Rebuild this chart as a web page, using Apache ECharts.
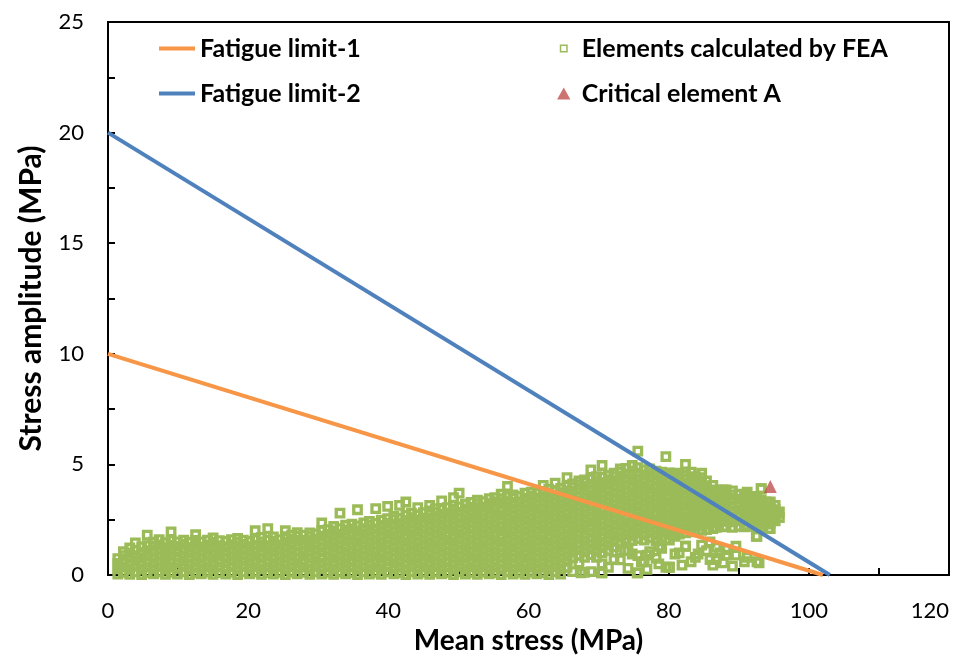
<!DOCTYPE html>
<html>
<head>
<meta charset="utf-8">
<script src="https://cdn.jsdelivr.net/npm/echarts@6/dist/echarts.min.js"></script>
<style>
html,body{margin:0;padding:0;background:#fff;}
#chart{width:957px;height:667px;}
</style>
</head>
<body>
<div id="chart"></div>
<script>
// Axis ticks
const xTicks = [0, 20, 40, 60, 80, 100, 120];
const yTicks = [0, 5, 10, 15, 20, 25];

// Fatigue limit lines (mean stress, stress amplitude)
const fatigueLimit1 = [[0, 10], [102, 0]];
const fatigueLimit2 = [[0, 20], [103, 0]];

// Critical element A
const criticalElementA = [[94.5, 4.0]];

// FEA elements, read column by column: [meanStress, amplitude1, amplitude2, ...]
const feaBandA = [
[1.4,0.04,0.28,0.52,0.74],
[2.2,0.12,0.37,0.61,0.88,1.05],
[3.1,0.03,0.26,0.5,0.76,0.99,1.22],
[3.9,0.14,0.39,0.63,0.87,1.12,1.45],
[4.8,0.02,0.27,0.52,0.77,1.01,1.27],
[5.6,0.11,0.36,0.6,0.86,1.1,1.33,1.8],
[6.5,0.05,0.29,0.54,0.79,1.04,1.3,1.48],
[7.3,0.13,0.38,0.62,0.88,1.12,1.36,1.6],
[8.2,0.03,0.27,0.51,0.75,1.0,1.24,1.46],
[9.0,0.12,0.36,0.6,0.85,1.09,1.34,1.55,1.95],
[9.9,0.04,0.3,0.55,0.8,1.05,1.29,1.5],
[10.8,0.14,0.39,0.64,0.88,1.13,1.38,1.57],
[11.6,0.02,0.26,0.5,0.76,1.0,1.25,1.48],
[12.5,0.1,0.35,0.6,0.84,1.1,1.34,1.56,1.82],
[13.3,0.05,0.29,0.53,0.78,1.02,1.27,1.5],
[14.2,0.13,0.37,0.62,0.87,1.11,1.35,1.58],
[15.0,0.03,0.28,0.52,0.76,1.01,1.25,1.49,1.68],
[15.9,0.11,0.36,0.61,0.85,1.1,1.33,1.55],
[16.8,0.04,0.29,0.54,0.79,1.03,1.28,1.52],
[17.6,0.12,0.38,0.63,0.87,1.12,1.37,1.6],
[18.5,0.02,0.27,0.51,0.75,0.99,1.24,1.48,1.66],
[19.3,0.14,0.39,0.64,0.89,1.13,1.38,1.58],
[20.2,0.05,0.3,0.55,0.8,1.04,1.28,1.52],
[21.0,0.13,0.37,0.61,0.86,1.1,1.35,1.6,2.0],
[21.9,0.03,0.28,0.52,0.77,1.02,1.26,1.5,1.7],
[22.8,0.11,0.36,0.6,0.85,1.09,1.33,1.57,2.1],
[23.6,0.04,0.29,0.53,0.78,1.03,1.27,1.52,1.72],
[24.5,0.12,0.38,0.62,0.87,1.12,1.36,1.6],
[25.3,0.02,0.27,0.51,0.76,1.0,1.25,1.49,1.73,2.0],
[26.2,0.13,0.38,0.63,0.88,1.12,1.37,1.61,1.8],
[27.0,0.05,0.3,0.54,0.79,1.04,1.29,1.53,1.76,1.92],
[27.9,0.12,0.36,0.61,0.85,1.1,1.34,1.58,1.8],
[28.8,0.03,0.28,0.53,0.77,1.02,1.26,1.5,1.74,1.9],
[29.6,0.14,0.39,0.63,0.88,1.13,1.37,1.62,1.86]
];
const feaBandB = [
[30.5,0.04,0.29,0.53,0.78,1.03,1.27,1.52,1.76,2.0,2.35],
[31.4,0.12,0.37,0.62,0.86,1.11,1.36,1.6,1.84,2.05],
[32.2,0.03,0.27,0.52,0.77,1.01,1.26,1.5,1.75,1.98,2.2],
[33.1,0.13,0.38,0.62,0.87,1.12,1.36,1.61,1.85,2.1,2.8],
[33.9,0.05,0.29,0.54,0.79,1.03,1.28,1.53,1.77,2.02,2.25],
[34.8,0.11,0.36,0.61,0.85,1.1,1.34,1.59,1.83,2.08,2.3],
[35.6,0.02,0.27,0.51,0.76,1.0,1.25,1.5,1.74,1.99,2.22,2.95],
[36.5,0.14,0.38,0.63,0.88,1.12,1.37,1.61,1.86,2.1,2.35],
[37.3,0.04,0.28,0.53,0.78,1.02,1.27,1.51,1.76,2.0,2.25,2.42],
[38.2,0.12,0.37,0.61,0.86,1.1,1.35,1.59,1.84,2.08,2.33,3.0],
[39.0,0.03,0.28,0.52,0.77,1.01,1.26,1.5,1.75,1.99,2.24,2.48],
[39.9,0.13,0.38,0.63,0.87,1.12,1.36,1.61,1.85,2.1,2.34,2.55,3.1],
[40.8,0.05,0.3,0.54,0.79,1.03,1.28,1.52,1.77,2.01,2.26,2.5,2.65],
[41.6,0.11,0.36,0.6,0.85,1.09,1.34,1.58,1.83,2.07,2.32,2.56,3.15],
[42.5,0.02,0.27,0.51,0.76,1.0,1.25,1.49,1.74,1.98,2.23,2.47,2.7,3.3],
[43.3,0.14,0.39,0.63,0.88,1.12,1.37,1.61,1.86,2.1,2.35,2.59,2.8],
[44.2,0.04,0.29,0.53,0.78,1.02,1.27,1.51,1.76,2.0,2.25,2.49,2.72,3.05],
[45.0,0.12,0.37,0.61,0.86,1.1,1.35,1.59,1.84,2.08,2.33,2.57,2.82],
[45.9,0.03,0.28,0.52,0.77,1.01,1.26,1.5,1.75,1.99,2.24,2.48,2.73,2.9,3.15],
[46.7,0.13,0.38,0.62,0.87,1.11,1.36,1.6,1.85,2.09,2.34,2.58,2.83,3.0],
[47.6,0.05,0.29,0.54,0.78,1.03,1.27,1.52,1.76,2.01,2.25,2.5,2.74,2.98,3.35],
[48.4,0.11,0.36,0.6,0.85,1.09,1.34,1.58,1.83,2.07,2.32,2.56,2.81,3.05],
[49.3,0.02,0.27,0.51,0.76,1.0,1.25,1.49,1.74,1.98,2.23,2.47,2.72,2.96,3.15,3.5],
[50.1,0.14,0.39,0.63,0.88,1.12,1.37,1.61,1.86,2.1,2.35,2.59,2.84,3.08,3.7],
[51.0,0.04,0.28,0.53,0.77,1.02,1.26,1.51,1.75,2.0,2.24,2.49,2.73,2.98,3.2],
[51.8,0.12,0.37,0.61,0.86,1.1,1.35,1.59,1.84,2.08,2.33,2.57,2.82,3.06,3.28],
[52.7,0.03,0.28,0.52,0.77,1.01,1.26,1.5,1.75,1.99,2.24,2.48,2.73,2.97,3.22,3.38],
[53.5,0.13,0.38,0.62,0.87,1.11,1.36,1.6,1.85,2.09,2.34,2.58,2.83,3.07,3.32],
[54.4,0.05,0.29,0.54,0.78,1.03,1.27,1.52,1.76,2.01,2.25,2.5,2.74,2.99,3.23,3.45],
[55.2,0.11,0.36,0.6,0.85,1.09,1.34,1.58,1.83,2.07,2.32,2.56,2.81,3.05,3.3,3.5],
[56.1,0.02,0.27,0.51,0.76,1.0,1.25,1.49,1.74,1.98,2.23,2.47,2.72,2.96,3.21,3.45,3.65],
[57.0,0.14,0.38,0.63,0.87,1.12,1.36,1.61,1.85,2.1,2.34,2.59,2.83,3.08,3.32,3.55,4.0],
[57.8,0.04,0.28,0.53,0.77,1.02,1.26,1.51,1.75,2.0,2.24,2.49,2.73,2.98,3.22,3.47,3.62],
[58.7,0.12,0.37,0.61,0.86,1.1,1.35,1.59,1.84,2.08,2.33,2.57,2.82,3.06,3.31,3.55],
[59.5,0.03,0.28,0.52,0.77,1.01,1.26,1.5,1.75,1.99,2.24,2.48,2.73,2.97,3.22,3.46,3.7]
];
const feaBandC = [
[60.4,0.13,0.38,0.62,0.87,1.11,1.36,1.6,1.85,2.09,2.34,2.58,2.83,3.07,3.32,3.56,3.75],
[61.2,0.05,0.29,0.54,0.78,1.03,1.27,1.52,1.76,2.01,2.25,2.5,2.74,2.99,3.23,3.48,3.7],
[62.1,0.11,0.36,0.6,0.85,1.09,1.34,1.58,1.83,2.07,2.32,2.56,2.81,3.05,3.3,3.54,3.78,4.05],
[62.9,0.02,0.27,0.51,0.76,1.0,1.25,1.49,1.74,1.98,2.23,2.47,2.72,2.96,3.21,3.45,3.7,3.88],
[63.8,0.14,0.38,0.63,0.87,1.12,1.36,1.61,1.85,2.1,2.34,2.59,2.83,3.08,3.32,3.57,3.8,4.15],
[64.6,0.04,0.28,0.53,0.77,1.02,1.26,1.51,1.75,2.0,2.24,2.49,2.73,2.98,3.22,3.47,3.71,3.92],
[65.5,0.35,0.62,0.86,1.11,1.35,1.6,1.84,2.09,2.33,2.58,2.82,3.07,3.31,3.56,3.8,4.02,4.4],
[66.3,0.15,0.78,1.03,1.27,1.52,1.76,2.01,2.25,2.5,2.74,2.99,3.23,3.48,3.72,3.97,4.12],
[67.2,0.55,0.9,1.14,1.39,1.63,1.88,2.12,2.37,2.61,2.86,3.1,3.35,3.59,3.84,4.08,4.25],
[68.0,0.12,0.8,1.05,1.3,1.54,1.79,2.03,2.28,2.52,2.77,3.01,3.26,3.5,3.75,3.99,4.2,4.3],
[68.9,0.15,0.92,1.17,1.41,1.66,1.9,2.15,2.39,2.64,2.88,3.13,3.37,3.62,3.86,4.11,4.35,4.75],
[69.7,0.8,1.08,1.32,1.57,1.81,2.06,2.3,2.55,2.79,3.04,3.28,3.53,3.77,4.02,4.26,4.45],
[70.5,0.1,0.5,1.0,1.24,1.49,1.73,1.98,2.22,2.47,2.71,2.96,3.2,3.45,3.69,3.94,4.18,4.42,4.95],
[71.4,0.35,1.12,1.36,1.61,1.85,2.1,2.34,2.59,2.83,3.08,3.32,3.57,3.81,4.06,4.3,4.5],
[72.2,0.7,1.27,1.52,1.76,2.01,2.25,2.5,2.74,2.99,3.23,3.48,3.72,3.97,4.21,4.45,4.6],
[73.1,0.68,1.1,1.48,1.72,1.97,2.21,2.46,2.7,2.95,3.19,3.44,3.68,3.93,4.17,4.42,4.65,4.8],
[73.9,1.48,1.62,1.87,2.11,2.36,2.6,2.85,3.09,3.34,3.58,3.83,4.07,4.32,4.56,4.82],
[74.8,0.95,1.55,1.79,2.04,2.28,2.53,2.77,3.02,3.26,3.51,3.75,4.0,4.24,4.49,4.7,4.95],
[75.6,0.1,0.88,1.65,1.9,2.14,2.39,2.63,2.88,3.12,3.37,3.61,3.86,4.1,4.35,4.6,4.85,5.6],
[76.5,0.6,1.58,1.82,2.07,2.31,2.56,2.8,3.05,3.29,3.54,3.78,4.03,4.27,4.52,4.75],
[77.3,1.05,1.68,1.93,2.17,2.42,2.66,2.91,3.15,3.4,3.64,3.89,4.13,4.38,4.62,4.8],
[78.2,0.75,1.55,1.8,2.04,2.29,2.53,2.78,3.02,3.27,3.51,3.76,4.0,4.25,4.5,4.7],
[79.0,1.2,1.7,1.95,2.19,2.44,2.68,2.93,3.17,3.42,3.66,3.91,4.15,4.4,4.65],
[79.6,0.35,1.62,2.0,2.5,3.0,3.5,4.0,4.5,5.35]
];
const feaBandD = [
[80.1,0.35,1.58,1.83,2.07,2.32,2.56,2.81,3.05,3.3,3.54,3.79,4.03,4.28,4.52,4.62],
[80.9,0.95,1.75,1.98,2.22,2.47,2.71,2.96,3.2,3.45,3.69,3.94,4.18,4.43,4.6],
[81.5,1.0,1.85,2.1,2.35,2.6,2.85,3.1,3.35,3.6,3.85,4.1,4.35,4.55],
[82.4,1.3,1.9,2.14,2.38,2.63,2.87,3.12,3.36,3.61,3.85,4.1,4.34,4.5,5.0],
[83.2,0.6,1.95,2.2,2.44,2.69,2.93,3.18,3.42,3.67,3.91,4.16,4.4,4.65],
[83.8,0.8,2.0,2.25,2.5,2.75,3.0,3.25,3.5,3.75,4.0,4.25,4.45],
[84.7,1.35,2.02,2.27,2.51,2.76,3.0,3.25,3.49,3.74,3.98,4.23,4.4,4.6],
[85.4,1.1,2.05,2.3,2.55,2.8,3.04,3.29,3.53,3.78,4.02,4.25],
[86.3,0.45,2.1,2.35,2.59,2.84,3.08,3.33,3.57,3.82,4.05],
[86.8,0.75,1.25,2.15,2.4,2.65,2.9,3.15,3.4,3.65,3.85],
[87.8,0.55,2.18,2.43,2.67,2.92,3.16,3.41,3.65,3.85],
[88.2,1.15,0.9,2.2,2.45,2.7,2.95,3.2,3.45,3.7,3.85],
[89.1,0.4,2.15,2.4,2.64,2.89,3.13,3.38,3.62,3.8],
[90.0,2.2,2.45,2.69,2.94,3.18,3.43,3.65],
[90.8,0.6,2.18,2.42,2.67,2.91,3.16,3.4,3.6],
[91.2,0.8,2.25,2.5,2.75,3.0,3.25,3.5,3.75],
[92.0,2.2,2.44,2.69,2.93,3.18,3.42,3.55],
[92.6,0.6,1.75,2.28,2.53,2.77,3.02,3.26,3.45],
[93.2,2.15,2.4,2.65,2.9,3.15,3.4,3.9],
[93.9,2.3,2.55,2.8,3.05,3.3],
[94.5,2.1,2.35,2.6,2.85,3.1,3.3],
[95.2,2.45,2.7,2.95,3.15],
[95.8,2.6,2.85]
];
// Isolated elements below the main band
const feaSparse = [
[67.5,0.1],[70.4,0.1],[75.5,0.1],[74.2,0.3],[74.2,1.1],[76.9,0.9],[76.9,0.25],
[78.6,0.5],[78.6,1.3],[81.9,0.45],[84.2,0.95],[85.9,0.7],[85.9,1.5],[87.3,1.0],
[89.6,0.9],[89.6,1.3],[73.7,1.1],[73.9,1.5],[76.1,0.6],[80.1,0.35],[82.4,1.3],
[92.9,0.55],[92.5,1.75],[94.3,2.1],[95.5,2.8],[93.2,3.9]
];

function columnsToPoints(cols) {
  const out = [];
  cols.forEach(c => { for (let i = 1; i < c.length; i++) out.push([c[0], c[i]]); });
  return out;
}
const feaPoints = [].concat(
  columnsToPoints(feaBandA), columnsToPoints(feaBandB),
  columnsToPoints(feaBandC), columnsToPoints(feaBandD), feaSparse
);

const FONT = 'Lato';
const chart = echarts.init(document.getElementById('chart'), null, {renderer: 'canvas'});
const axisCommon = {
  type: 'value',
  axisLine: {show: true, onZero: false, lineStyle: {color: '#000', width: 2}},
  axisTick: {show: true, inside: true, length: 7, lineStyle: {color: '#000', width: 2}},
  minorTick: {show: true, splitNumber: 2, length: 7, lineStyle: {color: '#000', width: 2}},
  splitLine: {show: false},
  nameLocation: 'middle'
};
const legendText = {fontFamily: FONT, fontSize: 25, fontWeight: 'bold', color: '#000'};
chart.setOption({
  animation: false,
  backgroundColor: '#fff',
  textStyle: {fontFamily: FONT},
  grid: {left: 108, right: 8, top: 22, bottom: 92, show: true, borderColor: '#000', borderWidth: 2},
  legend: [
    {
      data: [
        {name: 'Fatigue limit-1', icon: 'rect'},
        {name: 'Fatigue limit-2', icon: 'rect'}
      ],
      orient: 'vertical', left: 154, top: 31, itemWidth: 36, itemHeight: 4, itemGap: 20,
      textStyle: legendText
    },
    {
      data: [
        {name: 'Elements calculated by FEA', icon: 'path://M0,0M3,3L10,3L10,10L3,10ZM13,13',
          itemStyle: {color: 'rgba(0,0,0,0)', borderColor: '#9BBB59', borderWidth: 1.5}},
        {name: 'Critical element A', icon: 'path://M5,0L10,9L0,9Z'}
      ],
      orient: 'vertical', left: 552, top: 31, itemWidth: 26, itemHeight: 12, itemGap: 20,
      symbolKeepAspect: true,
      textStyle: legendText
    }
  ],
  xAxis: Object.assign({}, axisCommon, {
    min: 0, max: 120, interval: 20,
    name: 'Mean stress (MPa)', nameGap: 48,
    nameTextStyle: {fontFamily: FONT, fontSize: 28, fontWeight: 'bold', color: '#000'},
    axisLabel: {fontFamily: FONT, fontSize: 22, color: '#000', margin: 25, alignMaxLabel: 'right',
      formatter: v => xTicks.includes(v) ? String(v) : ''}
  }),
  yAxis: Object.assign({}, axisCommon, {
    min: 0, max: 25, interval: 5,
    name: 'Stress amplitude (MPa)', nameGap: 62,
    nameTextStyle: {fontFamily: FONT, fontSize: 30, fontWeight: 'bold', color: '#000'},
    axisLabel: {fontFamily: FONT, fontSize: 22, color: '#000', margin: 24,
      formatter: v => yTicks.includes(v) ? String(v) : ''}
  }),
  series: [
    {
      name: 'Elements calculated by FEA', type: 'scatter', data: feaPoints,
      symbol: 'rect', symbolSize: 7.5, z: 2,
      itemStyle: {color: 'rgba(0,0,0,0)', borderColor: '#9BBB59', borderWidth: 3.3, opacity: 1},
      emphasis: {disabled: true}
    },
    {
      name: 'Fatigue limit-1', type: 'line', data: fatigueLimit1, symbol: 'none', z: 3,
      lineStyle: {color: '#F79646', width: 4}, itemStyle: {color: '#F79646'}
    },
    {
      name: 'Fatigue limit-2', type: 'line', data: fatigueLimit2, symbol: 'none', z: 3,
      lineStyle: {color: '#4F81BD', width: 4}, itemStyle: {color: '#4F81BD'}
    },
    {
      name: 'Critical element A', type: 'scatter', data: criticalElementA,
      symbol: 'triangle', symbolSize: 13, z: 4,
      itemStyle: {color: '#C0504D'}
    }
  ]
});
</script>
</body>
</html>
